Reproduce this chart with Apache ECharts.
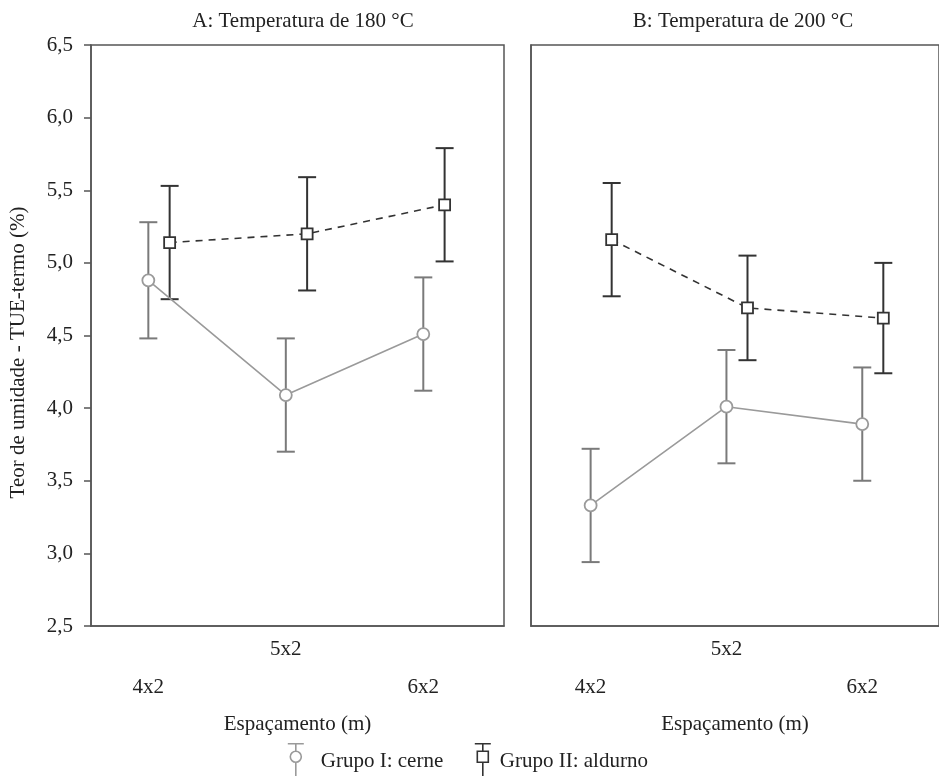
<!DOCTYPE html>
<html>
<head>
<meta charset="utf-8">
<script src="https://cdn.jsdelivr.net/npm/echarts@6/dist/echarts.min.js"></script>
<style>
  html, body { margin: 0; padding: 0; background: #fff; }
  #main { width: 939px; height: 776px; }
</style>
</head>
<body>
<div id="main"></div>
<script>
var myChart = echarts.init(document.getElementById("main"));

const categories = ["4x2", "5x2", "6x2"];
const yTicks = [2.5, 6.5, 0.5]; // min, max, interval

// A: 180 °C
const cerne180 = [4.88, 4.09, 4.51];
const cerne180Err = [0.40, 0.39, 0.39];
const alburno180 = [5.14, 5.20, 5.40];
const alburno180Err = [0.39, 0.39, 0.39];

// B: 200 °C
const cerne200 = [3.33, 4.01, 3.89];
const cerne200Err = [0.39, 0.39, 0.39];
const alburno200 = [5.16, 4.69, 4.62];
const alburno200Err = [0.39, 0.36, 0.38];

const nameI = "Grupo I: cerne";
const nameII = "Grupo II: aldurno";

const font = "Liberation Serif";
const fs = 21;
const txt = "#222";
const grayDark = "#7a7a7a";
const grayLine = "#9a9a9a";
const dark = "#333";
const shift = 0.155; // group II drawn a bit to the right

function points(vals, off) {
  return vals.map((v, i) => [i + 1 + off, v]);
}
function bars(vals, errs, off) {
  return vals.map((v, i) => [i + 1 + off, v - errs[i], v + errs[i]]);
}

function errorBar(color) {
  return function (params, api) {
    const x = api.value(0);
    const lo = api.coord([x, api.value(1)]);
    const hi = api.coord([x, api.value(2)]);
    const hw = 9;
    const style = { stroke: color, lineWidth: 2, fill: null };
    return {
      type: "group",
      children: [
        { type: "line", shape: { x1: lo[0], y1: lo[1], x2: hi[0], y2: hi[1] }, style: style },
        { type: "line", shape: { x1: lo[0] - hw, y1: lo[1], x2: lo[0] + hw, y2: lo[1] }, style: style },
        { type: "line", shape: { x1: hi[0] - hw, y1: hi[1], x2: hi[0] + hw, y2: hi[1] }, style: style },
      ],
    };
  };
}

function catLabel(v) {
  const i = Math.round(v) - 1;
  return i === 1 ? categories[i] : "\n" + categories[i];
}

function xAxis(idx, min) {
  return {
    gridIndex: idx,
    type: "value",
    min: min,
    max: min + 3.004,
    axisLine: { show: true, lineStyle: { color: "#555", width: 1.5 } },
    axisTick: { show: false },
    splitLine: { show: false },
    axisLabel: {
      customValues: [1, 2, 3],
      formatter: catLabel,
      color: txt,
      fontFamily: font,
      fontSize: fs,
      lineHeight: 38,
      margin: 4,
    },
    name: "Espaçamento (m)",
    nameLocation: "middle",
    nameGap: 88,
    nameTextStyle: { color: txt, fontFamily: font, fontSize: fs },
  };
}

function yAxis(idx, labels) {
  return {
    gridIndex: idx,
    type: "value",
    min: yTicks[0],
    max: yTicks[1],
    interval: yTicks[2],
    axisLine: { show: true, lineStyle: { color: "#555", width: 1.5 } },
    axisTick: { show: labels, length: 7, lineStyle: { color: "#555", width: 1.5 } },
    splitLine: { show: false },
    axisLabel: {
      show: labels,
      formatter: (v) => v.toFixed(1).replace(".", ","),
      color: txt,
      fontFamily: font,
      fontSize: fs,
      margin: 18,
    },
    name: labels ? "Teor de umidade - TUE-termo (%)" : "",
    nameLocation: "middle",
    nameGap: 62,
    nameTextStyle: { color: txt, fontFamily: font, fontSize: fs, padding: [0, 34, 0, 0] },
  };
}

function groupSeries(idx, cerne, cerneErr, alb, albErr) {
  return [
    {
      type: "custom",
      name: "errI" + idx,
      xAxisIndex: idx,
      yAxisIndex: idx,
      renderItem: errorBar(grayDark),
      data: bars(cerne, cerneErr, 0),
      encode: { x: 0, y: [1, 2] },
      z: 2,
      silent: true,
    },
    {
      type: "custom",
      name: "errII" + idx,
      xAxisIndex: idx,
      yAxisIndex: idx,
      renderItem: errorBar(dark),
      data: bars(alb, albErr, shift),
      encode: { x: 0, y: [1, 2] },
      z: 2,
      silent: true,
    },
    {
      type: "line",
      name: nameI,
      xAxisIndex: idx,
      yAxisIndex: idx,
      data: points(cerne, 0),
      symbol: "circle",
      symbolSize: 12,
      lineStyle: { color: grayLine, width: 1.6 },
      itemStyle: { color: "#fff", borderColor: grayLine, borderWidth: 1.8 },
      z: 4,
    },
    {
      type: "line",
      name: nameII,
      xAxisIndex: idx,
      yAxisIndex: idx,
      data: points(alb, shift),
      symbol: "rect",
      symbolSize: 11,
      lineStyle: { color: dark, width: 1.6, type: [7, 6] },
      itemStyle: { color: "#fff", borderColor: dark, borderWidth: 1.8 },
      z: 4,
    },
  ];
}

// legend icons drawn like the error bar + marker
const iconI = "path://M0,0 L16,0 M8,0 L8,7.5 M13.5,13 A5.5,5.5 0 1 1 2.5,13 A5.5,5.5 0 1 1 13.5,13 M8,18.5 L8,36 M0,36 L16,36";
const iconII = "path://M0,0 L16,0 M8,0 L8,7.5 M2.5,7.5 L13.5,7.5 L13.5,18.5 L2.5,18.5 Z M8,18.5 L8,36 M0,36 L16,36";

function legendFor(name, icon, color, left, pad) {
  return {
    left: left,
    top: 743,
    padding: 0,
    itemWidth: 16,
    itemHeight: 36,
    textStyle: { color: txt, fontFamily: font, fontSize: fs, padding: [0, 0, 20, pad] },
    data: [
      {
        name: name,
        icon: icon,
        itemStyle: { color: "#fff", borderColor: color, borderWidth: 1.6 },
      },
    ],
  };
}

option = {
  animation: false,
  backgroundColor: "#fff",
  title: [
    {
      text: "A: Temperatura de 180 °C",
      left: 298,
      textAlign: "center",
      top: 6,
      textStyle: { color: txt, fontFamily: font, fontSize: fs, fontWeight: "normal" },
    },
    {
      text: "B: Temperatura de 200 °C",
      left: 738,
      textAlign: "center",
      top: 6,
      textStyle: { color: txt, fontFamily: font, fontSize: fs, fontWeight: "normal" },
    },
  ],
  legend: [
    legendFor(nameI, iconI, grayLine, 287, 12),
    legendFor(nameII, iconII, dark, 474, 4),
  ],
  grid: [
    { left: 91, top: 45, width: 413, height: 581, show: true, borderColor: "#555", borderWidth: 1.5 },
    { left: 531, top: 45, width: 413, height: 581, show: true, borderColor: "#555", borderWidth: 1.5 },
  ],
  xAxis: [xAxis(0, 0.583), xAxis(1, 0.561)],
  yAxis: [yAxis(0, true), yAxis(1, false)],
  series: [].concat(
    groupSeries(0, cerne180, cerne180Err, alburno180, alburno180Err),
    groupSeries(1, cerne200, cerne200Err, alburno200, alburno200Err)
  ),
};

myChart.setOption(option);
</script>
</body>
</html>
